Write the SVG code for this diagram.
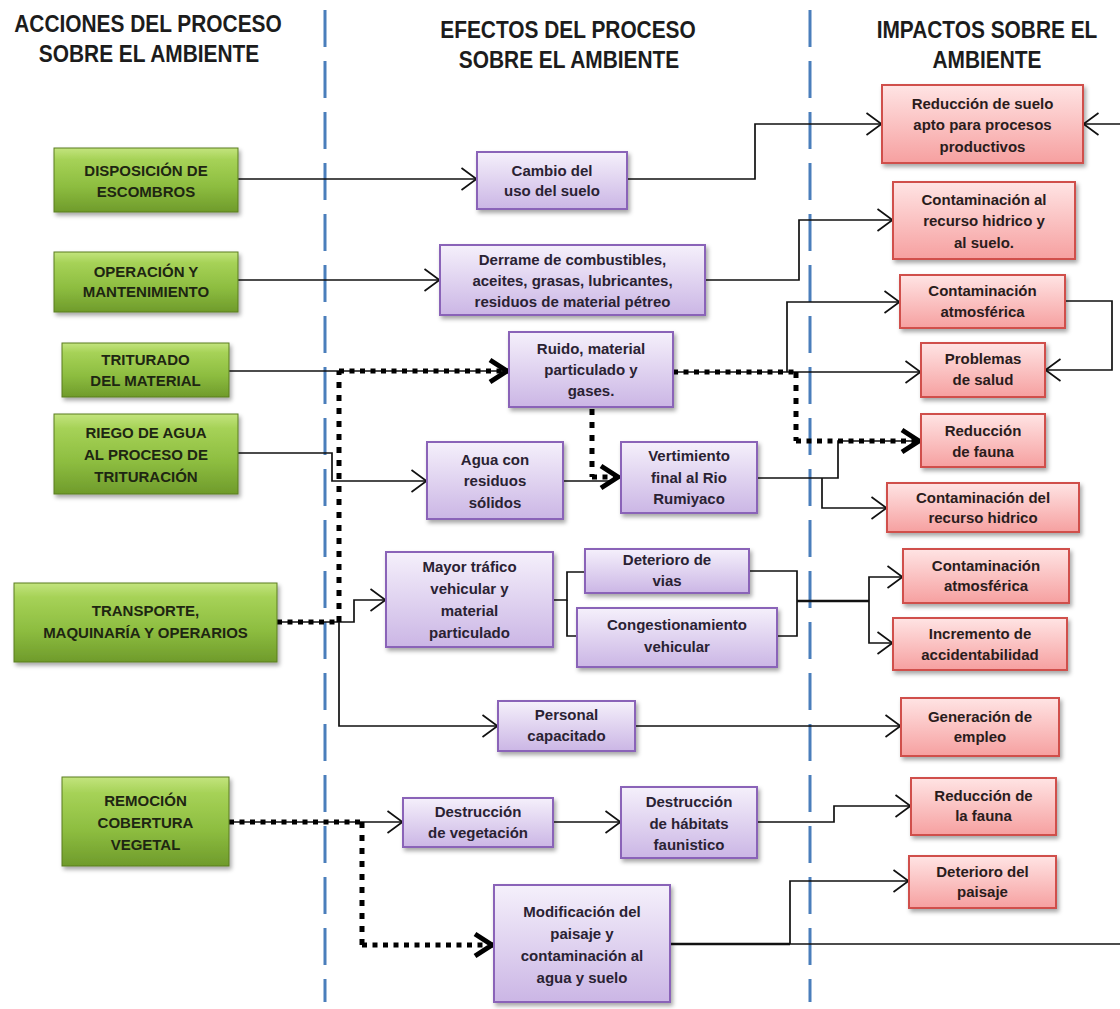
<svg xmlns="http://www.w3.org/2000/svg" width="1120" height="1009" viewBox="0 0 1120 1009">
<defs>
<linearGradient id="gG" x1="0" y1="0" x2="0" y2="1">
<stop offset="0" stop-color="#c3e47e"/><stop offset="0.18" stop-color="#a6d257"/><stop offset="0.6" stop-color="#8dbd40"/><stop offset="1" stop-color="#6f9b2b"/>
</linearGradient>
<linearGradient id="gP" x1="0" y1="0" x2="0" y2="1">
<stop offset="0" stop-color="#f5f0fb"/><stop offset="1" stop-color="#cbb6e5"/>
</linearGradient>
<linearGradient id="gR" x1="0" y1="0" x2="0" y2="1">
<stop offset="0" stop-color="#ffe4e4"/><stop offset="1" stop-color="#f6a0a0"/>
</linearGradient>
<filter id="sh" x="-10%" y="-10%" width="130%" height="140%">
<feDropShadow dx="2" dy="3" stdDeviation="2" flood-color="#000" flood-opacity="0.35"/>
</filter>
<marker id="ar" markerUnits="userSpaceOnUse" viewBox="0 0 18 24" markerWidth="18" markerHeight="24" refX="16.5" refY="12" orient="auto" overflow="visible">
<path d="M1,1 L16,12 L1,23" fill="none" stroke="#111" stroke-width="1.7"/>
</marker>
<marker id="ab" markerUnits="userSpaceOnUse" viewBox="0 0 24 28" markerWidth="24" markerHeight="28" refX="21" refY="14" orient="auto" overflow="visible">
<path d="M3,3 L20,14 L3,25" fill="none" stroke="#000" stroke-width="5"/>
</marker>
</defs>
<style>
.hdr{font-family:"Liberation Sans",Arial,sans-serif;font-size:24px;font-weight:bold;fill:#1c1c1c;text-anchor:middle}
.sep{stroke:#4a7ebb;stroke-width:3;stroke-dasharray:37 14;fill:none}
.ln{fill:none;stroke:#111;stroke-width:1.7}
.lnk{fill:none;stroke:#111;stroke-width:2.6}
.dh{fill:none;stroke:#000;stroke-width:5;stroke-dasharray:5 5.5}
.dv{fill:none;stroke:#000;stroke-width:5;stroke-dasharray:6 7}
.g rect{fill:url(#gG);stroke:#5b7d1f;stroke-width:1;filter:url(#sh)}
.p rect{fill:url(#gP);stroke:#8a64b8;stroke-width:2;filter:url(#sh)}
.r rect{fill:url(#gR);stroke:#d0504c;stroke-width:2;filter:url(#sh)}
.g text{font-family:"Liberation Sans",Arial,sans-serif;font-size:15px;font-weight:bold;fill:#1e2612;text-anchor:middle}
.p text{font-family:"Liberation Sans",Arial,sans-serif;font-size:15px;font-weight:bold;fill:#2a2233;text-anchor:middle}
.r text{font-family:"Liberation Sans",Arial,sans-serif;font-size:15px;font-weight:bold;fill:#2a1c1c;text-anchor:middle}
</style>
<rect width="1120" height="1009" fill="#fff"/>

<g id="headers">
<text class="hdr" transform="translate(148,32) scale(0.87,1)">ACCIONES DEL PROCESO</text>
<text class="hdr" transform="translate(149,62) scale(0.87,1)">SOBRE EL AMBIENTE</text>
<text class="hdr" transform="translate(568,38) scale(0.87,1)">EFECTOS DEL PROCESO</text>
<text class="hdr" transform="translate(569,68) scale(0.87,1)">SOBRE EL AMBIENTE</text>
<text class="hdr" transform="translate(987,38) scale(0.87,1)">IMPACTOS SOBRE EL</text>
<text class="hdr" transform="translate(987,68) scale(0.87,1)">AMBIENTE</text>
</g>

<g id="separators">
<line class="sep" x1="325" y1="10" x2="325" y2="1002"/>
<line class="sep" x1="810" y1="10" x2="810" y2="1002"/>
</g>

<g id="connectors">
<path class="ln" d="M238,179 H477" marker-end="url(#ar)"/>
<path class="ln" d="M627,179 H755 V124 H882" marker-end="url(#ar)"/>
<path class="ln" d="M1120,124 H1083" marker-end="url(#ar)"/>
<path class="ln" d="M238,280 H440" marker-end="url(#ar)"/>
<path class="ln" d="M705,280 H799 V220 H893" marker-end="url(#ar)"/>
<path class="ln" d="M229,371 H509"/>
<path class="ln" d="M673,372 H921" marker-end="url(#ar)"/>
<path class="ln" d="M787,372 V302 H900" marker-end="url(#ar)"/>
<path class="ln" d="M1065,301 H1112 V370 H1045" marker-end="url(#ar)"/>
<path class="ln" d="M238,453 H332 V481 H427" marker-end="url(#ar)"/>
<path class="ln" d="M563,481 H612"/>
<path class="ln" d="M757,478 H838 V441 H912"/>
<path class="ln" d="M822,478 V508 H887" marker-end="url(#ar)"/>
<path class="ln" d="M277,622 H354 V600 H386" marker-end="url(#ar)"/>
<path class="ln" d="M339,622 V726 H498" marker-end="url(#ar)"/>
<path class="ln" d="M553,600 H567 V572 H585"/>
<path class="ln" d="M567,600 V636 H577"/>
<path class="ln" d="M749,571 H797 V636 H777"/>
<path class="lnk" d="M797,601 H869"/>
<path class="ln" d="M869,601 V577 H903" marker-end="url(#ar)"/>
<path class="ln" d="M869,601 V643 H893" marker-end="url(#ar)"/>
<path class="ln" d="M635,726 H901" marker-end="url(#ar)"/>
<path class="ln" d="M229,822 H403" marker-end="url(#ar)"/>
<path class="ln" d="M553,822 H621" marker-end="url(#ar)"/>
<path class="ln" d="M757,822 H834 V806 H911" marker-end="url(#ar)"/>
<path class="lnk" d="M670,944 H790"/>
<path class="ln" d="M790,944 H1120"/>
<path class="ln" d="M790,944 V881 H909" marker-end="url(#ar)"/>
<path class="dh" d="M277,622 H339"/>
<path class="dv" d="M339,622 V371"/>
<path class="dh" d="M339,371 H508" marker-end="url(#ab)"/>
<path class="dh" d="M673,372 H796"/>
<path class="dv" d="M796,372 V441"/>
<path class="dh" d="M796,441 H920" marker-end="url(#ab)"/>
<path class="dv" d="M592,409 V477"/>
<path class="dh" d="M592,477 H619" marker-end="url(#ab)"/>
<path class="dh" d="M229,822 H362"/>
<path class="dv" d="M362,822 V945"/>
<path class="dh" d="M362,945 H493" marker-end="url(#ab)"/>
</g>

<g id="n-disposicion" class="g"><rect x="54" y="148" width="184" height="64"/><text x="146" y="176">DISPOSICIÓN DE</text><text x="146" y="197">ESCOMBROS</text></g>
<g id="n-operacion" class="g"><rect x="54" y="252" width="184" height="60"/><text x="146" y="277">OPERACIÓN Y</text><text x="146" y="297">MANTENIMIENTO</text></g>
<g id="n-triturado" class="g"><rect x="62" y="343" width="167" height="54"/><text x="145.5" y="365">TRITURADO</text><text x="145.5" y="386">DEL MATERIAL</text></g>
<g id="n-riego" class="g"><rect x="54" y="414" width="184" height="80"/><text x="146" y="438">RIEGO DE AGUA</text><text x="146" y="460">AL PROCESO DE</text><text x="146" y="482">TRITURACIÓN</text></g>
<g id="n-transporte" class="g"><rect x="14" y="583" width="263" height="79"/><text x="145.5" y="616">TRANSPORTE,</text><text x="145.5" y="638">MAQUINARÍA Y OPERARIOS</text></g>
<g id="n-remocion" class="g"><rect x="62" y="777" width="167" height="89"/><text x="145.5" y="806">REMOCIÓN</text><text x="145.5" y="828">COBERTURA</text><text x="145.5" y="850">VEGETAL</text></g>

<g id="n-cambio" class="p"><rect x="477" y="152" width="150" height="57"/><text x="552" y="176">Cambio del</text><text x="552" y="196">uso del suelo</text></g>
<g id="n-derrame" class="p"><rect x="440" y="245" width="265" height="70"/><text x="572.5" y="265">Derrame de combustibles,</text><text x="572.5" y="286">aceites, grasas, lubricantes,</text><text x="572.5" y="307">residuos de material pétreo</text></g>
<g id="n-ruido" class="p"><rect x="509" y="332" width="164" height="75"/><text x="591" y="354">Ruido, material</text><text x="591" y="375">particulado y</text><text x="591" y="396">gases.</text></g>
<g id="n-agua" class="p"><rect x="427" y="442" width="136" height="77"/><text x="495" y="465">Agua con</text><text x="495" y="486">residuos</text><text x="495" y="508">sólidos</text></g>
<g id="n-vertimiento" class="p"><rect x="621" y="442" width="136" height="71"/><text x="689" y="461">Vertimiento</text><text x="689" y="483">final al Rio</text><text x="689" y="504">Rumiyaco</text></g>
<g id="n-trafico" class="p"><rect x="386" y="552" width="167" height="95"/><text x="469.5" y="572">Mayor tráfico</text><text x="469.5" y="594">vehicular y</text><text x="469.5" y="616">material</text><text x="469.5" y="638">particulado</text></g>
<g id="n-vias" class="p"><rect x="585" y="549" width="164" height="44"/><text x="667" y="565">Deterioro de</text><text x="667" y="586">vias</text></g>
<g id="n-congestion" class="p"><rect x="577" y="608" width="200" height="59"/><text x="677" y="630">Congestionamiento</text><text x="677" y="652">vehicular</text></g>
<g id="n-personal" class="p"><rect x="498" y="701" width="137" height="50"/><text x="566.5" y="720">Personal</text><text x="566.5" y="741">capacitado</text></g>
<g id="n-destveg" class="p"><rect x="403" y="798" width="150" height="49"/><text x="478" y="817">Destrucción</text><text x="478" y="838">de vegetación</text></g>
<g id="n-desthab" class="p"><rect x="621" y="787" width="136" height="71"/><text x="689" y="807">Destrucción</text><text x="689" y="829">de hábitats</text><text x="689" y="850">faunistico</text></g>
<g id="n-modificacion" class="p"><rect x="494" y="885" width="176" height="117"/><text x="582" y="917">Modificación del</text><text x="582" y="939">paisaje y</text><text x="582" y="961">contaminación al</text><text x="582" y="983">agua y suelo</text></g>

<g id="n-redsuelo" class="r"><rect x="882" y="85" width="201" height="78"/><text x="982.5" y="109">Reducción de suelo</text><text x="982.5" y="130">apto para procesos</text><text x="982.5" y="152">productivos</text></g>
<g id="n-contrec" class="r"><rect x="893" y="182" width="182" height="77"/><text x="984" y="205">Contaminación al</text><text x="984" y="226">recurso hidrico y</text><text x="984" y="248">al suelo.</text></g>
<g id="n-atmos1" class="r"><rect x="900" y="275" width="165" height="53"/><text x="982.5" y="296">Contaminación</text><text x="982.5" y="317">atmosférica</text></g>
<g id="n-salud" class="r"><rect x="921" y="343" width="124" height="54"/><text x="983" y="364">Problemas</text><text x="983" y="385">de salud</text></g>
<g id="n-fauna1" class="r"><rect x="921" y="414" width="124" height="53"/><text x="983" y="436">Reducción</text><text x="983" y="457">de fauna</text></g>
<g id="n-hidrico" class="r"><rect x="887" y="483" width="192" height="49"/><text x="983" y="503">Contaminación del</text><text x="983" y="523">recurso hidrico</text></g>
<g id="n-atmos2" class="r"><rect x="903" y="549" width="166" height="54"/><text x="986" y="571">Contaminación</text><text x="986" y="591">atmosférica</text></g>
<g id="n-accid" class="r"><rect x="893" y="618" width="174" height="52"/><text x="980" y="639">Incremento de</text><text x="980" y="660">accidentabilidad</text></g>
<g id="n-empleo" class="r"><rect x="901" y="698" width="158" height="58"/><text x="980" y="722">Generación de</text><text x="980" y="742">empleo</text></g>
<g id="n-fauna2" class="r"><rect x="911" y="778" width="145" height="57"/><text x="983.5" y="801">Reducción de</text><text x="983.5" y="821">la fauna</text></g>
<g id="n-paisaje" class="r"><rect x="909" y="856" width="147" height="52"/><text x="982.5" y="877">Deterioro del</text><text x="982.5" y="897">paisaje</text></g>
</svg>
